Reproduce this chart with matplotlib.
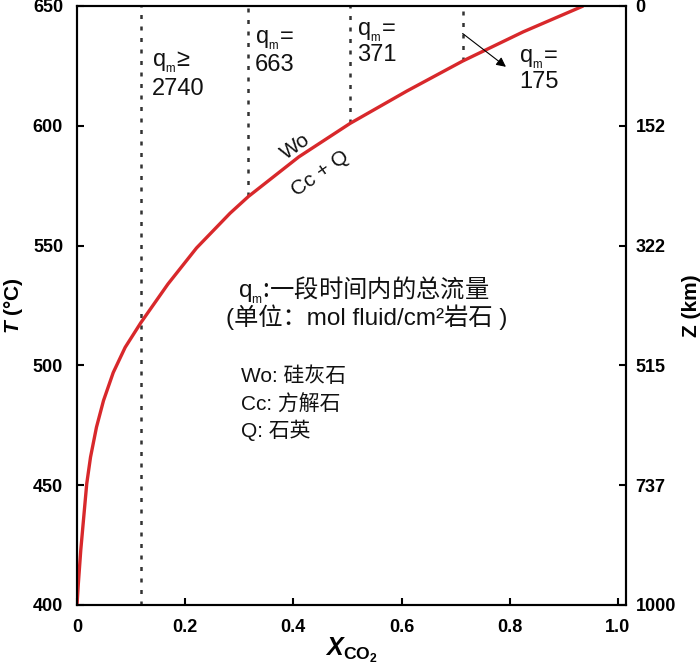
import matplotlib
matplotlib.use('Agg')
import matplotlib.pyplot as plt

# curve (X_CO2 vs T)
x_co2 = [0, 0.0025, 0.007, 0.018, 0.025, 0.036, 0.049, 0.067, 0.089, 0.118,
         0.168, 0.221, 0.283, 0.317, 0.41, 0.505, 0.61, 0.713, 0.825, 0.936]
temp = [400, 409, 423, 450.6, 461.7, 474.2, 485.3, 497, 507.5, 517.8,
        533.9, 549, 563.5, 570.5, 587, 601, 614.5, 627, 639.2, 650]

# flux boundaries (dotted lines) and their labels
q_lines_x = [0.118, 0.317, 0.505, 0.713]
q_lines_bottom = [400, 570.5, 601, 627]
q_signs = ['≥', '=', '=', '=']
q_values = ['2740', '663', '371', '175']

t_ticks = [400, 450, 500, 550, 600, 650]
z_labels = ['1000', '737', '515', '322', '152', '0']
x_ticks = [0, 0.2, 0.4, 0.6, 0.8, 1.0]
x_ticklabels = ['0', '0.2', '0.4', '0.6', '0.8', '1.0']

legend_lines = ['Wo: 硅灰石', 'Cc: 方解石', 'Q: 石英']

plt.rcParams['font.family'] = ['Liberation Sans', 'Noto Sans CJK SC']
plt.rcParams['mathtext.fontset'] = 'custom'
plt.rcParams['mathtext.rm'] = 'Liberation Sans'
plt.rcParams['mathtext.bf'] = 'Liberation Sans:bold'
plt.rcParams['mathtext.it'] = 'Liberation Sans:italic'
plt.rcParams['mathtext.bfit'] = 'Liberation Sans:italic:bold'

QM = r'$\mathrm{q}_{{}_{\mathrm{m}}}$'


def main():
    fig = plt.figure(figsize=(7, 6.69), dpi=100)
    ax = fig.add_axes([0.110, 0.0957, 0.7843, 0.8954])

    ax.plot(x_co2, temp, color='#d8282b', lw=2.4, solid_capstyle='butt', zorder=3)

    for x, yb in zip(q_lines_x, q_lines_bottom):
        ax.plot([x, x], [yb, 650], color='#333333', lw=1.8,
                linestyle=(0, (1.6, 3.0)), zorder=2)

    # q_m labels
    lab_x = [0.139, 0.329, 0.518, 0.817]
    lab_y1 = [624.6, 634.3, 637.8, 626.3]
    lab_y2 = [612.9, 622.8, 627.0, 615.6]
    for i in range(4):
        ax.text(lab_x[i], lab_y1[i], QM + q_signs[i],
                fontsize=17, va='baseline', ha='left', color='#111111')
        ax.text(lab_x[i], lab_y2[i], q_values[i],
                fontsize=17, va='baseline', ha='left', color='#111111')

    ax.annotate('', xy=(0.793, 624.6), xytext=(0.713, 638.5),
                arrowprops=dict(arrowstyle='-|>', lw=0.8, color='black',
                                mutation_scale=14, shrinkA=0, shrinkB=0))

    # reaction labels along the curve
    ax.text(0.403, 591.3, 'Wo', fontsize=15, rotation=35, rotation_mode='anchor',
            ha='center', va='center', color='#111111')
    ax.text(0.449, 580.2, 'Cc + Q', fontsize=15, rotation=35, rotation_mode='anchor',
            ha='center', va='center', color='#111111')

    ax.text(0.298, 528.4, QM + ':一段时间内的总流量',
            fontsize=17.5, family='Noto Sans CJK SC', va='baseline', color='#111111')
    ax.text(0.275, 516.8, '(单位：mol fluid/cm²岩石 )',
            fontsize=17.5, va='baseline', color='#111111')

    leg_y = [492.9, 481.1, 470.0]
    for txt, y in zip(legend_lines, leg_y):
        ax.text(0.303, y, txt, fontsize=15, va='baseline', color='#111111')

    ax.set_xlim(0, 1.015)
    ax.set_ylim(400, 650)
    ax.set_xticks(x_ticks)
    ax.set_xticklabels(x_ticklabels)
    ax.set_yticks(t_ticks)

    for s in ax.spines.values():
        s.set_linewidth(1.5)
    ax.tick_params(axis='x', direction='in', length=5, width=1.5, pad=10,
                   labelsize=13)
    ax.tick_params(axis='y', direction='in', length=5, width=1.5, pad=10,
                   labelsize=13)
    for lbl in ax.get_xticklabels() + ax.get_yticklabels():
        lbl.set_fontweight('bold')

    ax.set_ylabel(r'$\mathbfit{T}$ (°C)', fontsize=15, fontweight='bold', labelpad=6)
    ax.set_xlabel(r'$\mathbfit{X}_{\mathbf{CO_2}}$', fontsize=18, labelpad=0)

    ax2 = ax.twinx()
    ax2.set_ylim(ax.get_ylim())
    ax2.set_yticks(t_ticks)
    ax2.set_yticklabels(z_labels)
    ax2.tick_params(axis='y', direction='in', length=5, width=1.5, pad=7,
                    labelsize=13)
    for lbl in ax2.get_yticklabels():
        lbl.set_fontweight('bold')
    for s in ax2.spines.values():
        s.set_linewidth(1.5)
    ax2.set_ylabel('Z (km)', fontsize=15, fontweight='bold', labelpad=4)

    fig.savefig('out.png', dpi=100)
    plt.close(fig)


if __name__ == '__main__':
    main()
